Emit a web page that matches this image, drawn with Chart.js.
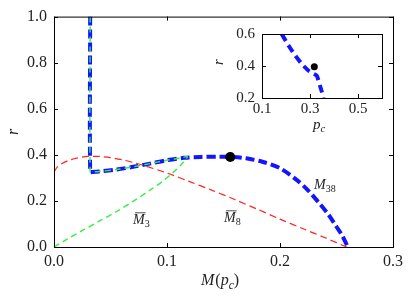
<!DOCTYPE html>
<html>
<head>
<meta charset="utf-8">
<script src="https://cdn.jsdelivr.net/npm/chart.js@4.4.0/dist/chart.umd.min.js"></script>
<style>
html, body { margin: 0; padding: 0; background: #fff; }
#wrap { position: relative; width: 416px; height: 301px; }
#main { position: absolute; left: 0; top: 0; }
#inset { position: absolute; left: 200px; top: 18px; }
</style>
</head>
<body>
<div id="wrap">
  <canvas id="main" width="416" height="301"></canvas>
  <canvas id="inset" width="200" height="120"></canvas>
</div>
<script>
// --- data ---
const xTicks = [0, 0.1, 0.2, 0.3];
const yTicks = [0, 0.2, 0.4, 0.6, 0.8, 1.0];

// M_38 (thick blue)
const m38M = [0.032, 0.032, 0.034, 0.04, 0.055, 0.07, 0.085, 0.1, 0.115, 0.13, 0.145, 0.156, 0.17, 0.185, 0.2, 0.215, 0.225, 0.235, 0.243, 0.25, 0.255, 0.26];
const m38R = [1.0, 0.326, 0.326, 0.328, 0.336, 0.348, 0.362, 0.377, 0.387, 0.391, 0.392, 0.391, 0.385, 0.369, 0.342, 0.29, 0.245, 0.189, 0.14, 0.088, 0.05, 0.0];

// M-bar_3 (green), traced along its path
const m3M = [0.032, 0.032, 0.034, 0.04, 0.055, 0.07, 0.085, 0.1, 0.112, 0.118, 0.113, 0.106, 0.096, 0.085, 0.07, 0.055, 0.04, 0.026, 0.012, 0.0];
const m3R = [1.0, 0.326, 0.326, 0.328, 0.336, 0.348, 0.362, 0.377, 0.386, 0.392, 0.36, 0.326, 0.285, 0.247, 0.198, 0.153, 0.112, 0.074, 0.035, 0.0];

// M-bar_8 (red)
const m8M = [0.0, 0.003, 0.007, 0.012, 0.02, 0.03, 0.04, 0.05, 0.06, 0.07, 0.08, 0.1, 0.12, 0.14, 0.16, 0.18, 0.2, 0.22, 0.24, 0.259];
const m8R = [0.325, 0.348, 0.362, 0.374, 0.386, 0.393, 0.393, 0.388, 0.379, 0.367, 0.353, 0.321, 0.284, 0.246, 0.206, 0.164, 0.121, 0.08, 0.04, 0.0];

const peakM = [0.156];
const peakR = [0.391];

// inset: r versus p_c
const insetXTicks = [0.1, 0.3, 0.5];
const insetYTicks = [0.2, 0.4, 0.6];
const insetP = [0.182, 0.21, 0.2375, 0.265, 0.293, 0.314, 0.328, 0.335, 0.342, 0.35, 0.356];
const insetR = [0.6, 0.53, 0.468, 0.415, 0.372, 0.352, 0.34, 0.31, 0.275, 0.235, 0.2];
const insetDotP = [0.318];
const insetDotR = [0.395];

const SERIF = '"Liberation Serif", "DejaVu Serif", serif';
const pts = (xs, ys) => xs.map((x, i) => ({ x: x, y: ys[i] }));

// frame + inward ticks on all four sides
const framePlugin = {
  id: 'frame',
  afterDraw(chart) {
    const ctx = chart.ctx, a = chart.chartArea;
    const sx = chart.scales.x, sy = chart.scales.y;
    ctx.save();
    ctx.strokeStyle = '#000';
    ctx.lineWidth = 1;
    ctx.strokeRect(a.left + 0.5, a.top + 0.5, a.right - a.left, a.bottom - a.top);
    ctx.beginPath();
    sx.ticks.forEach(t => {
      const px = Math.round(sx.getPixelForValue(t.value)) + 0.5;
      ctx.moveTo(px, a.bottom); ctx.lineTo(px, a.bottom - 4);
      ctx.moveTo(px, a.top); ctx.lineTo(px, a.top + 4);
    });
    sy.ticks.forEach(t => {
      const py = Math.round(sy.getPixelForValue(t.value)) + 0.5;
      ctx.moveTo(a.left, py); ctx.lineTo(a.left + 4, py);
      ctx.moveTo(a.right, py); ctx.lineTo(a.right - 4, py);
    });
    ctx.stroke();
    ctx.restore();
  }
};

// italic math-ish text with subscripts and bars
function mathText(ctx, x, y, parts, size) {
  let cx = x;
  parts.forEach(p => {
    const fs = p.sub ? size * 0.72 : size;
    ctx.font = (p.it ? 'italic ' : '') + fs + 'px ' + SERIF;
    const dy = p.sub ? size * 0.22 : 0;
    ctx.fillText(p.t, cx, y + dy);
    const w = ctx.measureText(p.t).width;
    if (p.bar) {
      ctx.beginPath();
      ctx.moveTo(cx + 2, y - size * 0.8);
      ctx.lineTo(cx + w + 1, y - size * 0.8);
      ctx.stroke();
    }
    cx += w + (p.gap || 0);
  });
}

const mainLabels = {
  id: 'mainLabels',
  afterDraw(chart) {
    const ctx = chart.ctx;
    ctx.save();
    ctx.fillStyle = '#222';
    ctx.strokeStyle = '#222';
    ctx.lineWidth = 0.8;
    ctx.textBaseline = 'alphabetic';
    ctx.textAlign = 'left';
    mathText(ctx, 133, 224, [{ t: 'M', it: true, bar: true }, { t: '3', sub: true }], 14);
    mathText(ctx, 224, 222, [{ t: 'M', it: true, bar: true }, { t: '8', sub: true }], 14);
    mathText(ctx, 314, 189, [{ t: 'M', it: true }, { t: '38', sub: true }], 14);
    mathText(ctx, 201, 285, [{ t: 'M', it: true, gap: 1 }, { t: '(' }, { t: 'p', it: true }, { t: 'c', it: true, sub: true }, { t: ')' }], 16);
    ctx.translate(18, 132);
    ctx.rotate(-Math.PI / 2);
    ctx.textAlign = 'center';
    ctx.font = 'italic 16px ' + SERIF;
    ctx.fillText('r', 0, 0);
    ctx.restore();
  }
};

const insetLabels = {
  id: 'insetLabels',
  afterDraw(chart) {
    const ctx = chart.ctx;
    ctx.save();
    ctx.fillStyle = '#222';
    ctx.textBaseline = 'alphabetic';
    mathText(ctx, 113, 111, [{ t: 'p', it: true }, { t: 'c', it: true, sub: true }], 15);
    ctx.translate(23, 44);
    ctx.rotate(-Math.PI / 2);
    ctx.textAlign = 'center';
    ctx.font = 'italic 15px ' + SERIF;
    ctx.fillText('r', 0, 0);
    ctx.restore();
  }
};

function axis(min, max, ticks, size, pad, fit, fontSize) {
  return {
    type: 'linear', min: min, max: max,
    afterBuildTicks: s => { s.ticks = ticks.map(v => ({ value: v })); },
    afterFit: s => { s[size] = fit; },
    grid: { display: false, drawTicks: false },
    border: { display: false },
    ticks: {
      autoSkip: false, maxRotation: 0, padding: pad, color: '#222',
      font: { family: SERIF, size: fontSize },
      callback: v => Number(v).toFixed(1)
    }
  };
}

new Chart(document.getElementById('main'), {
  type: 'scatter',
  data: {
    datasets: [
      { data: pts(peakM, peakR), order: 0, pointRadius: 5, pointBackgroundColor: '#000', pointBorderWidth: 0, showLine: false },
      { data: pts(m3M, m3R), order: 1, showLine: true, borderColor: '#33ee44', borderWidth: 1.4, borderDash: [6, 4], pointRadius: 0, tension: 0.3 },
      { data: pts(m8M, m8R), order: 2, showLine: true, borderColor: '#ff2222', borderWidth: 1.2, borderDash: [7, 4], pointRadius: 0, tension: 0.3 },
      { data: pts(m38M, m38R), order: 3, showLine: true, borderColor: '#1414ff', borderWidth: 4, borderDash: [9, 4], pointRadius: 0, tension: 0.3 }
    ]
  },
  options: {
    responsive: false, animation: false, events: [],
    layout: { padding: { left: 0, top: 16, right: 23, bottom: 0 } },
    plugins: { legend: { display: false }, tooltip: { enabled: false } },
    scales: {
      x: axis(0, 0.3, xTicks, 'height', 5, 54, 16),
      y: axis(0, 1.0, yTicks, 'width', 7, 54, 16)
    }
  },
  plugins: [framePlugin, mainLabels]
});

new Chart(document.getElementById('inset'), {
  type: 'scatter',
  data: {
    datasets: [
      { data: pts(insetDotP, insetDotR), order: 0, pointRadius: 3.5, pointBackgroundColor: '#000', pointBorderWidth: 0, showLine: false },
      { data: pts(insetP, insetR), order: 1, showLine: true, borderColor: '#1414ff', borderWidth: 4, borderDash: [8, 5], pointRadius: 0, tension: 0.3 }
    ]
  },
  options: {
    responsive: false, animation: false, events: [],
    layout: { padding: { left: 0, top: 11, right: 18, bottom: 0 } },
    plugins: { legend: { display: false }, tooltip: { enabled: false } },
    scales: {
      x: axis(0.1, 0.6, insetXTicks, 'height', 2, 40, 15),
      y: axis(0.2, 0.6, insetYTicks, 'width', 7, 62, 15)
    }
  },
  plugins: [framePlugin, insetLabels]
});
</script>
</body>
</html>
